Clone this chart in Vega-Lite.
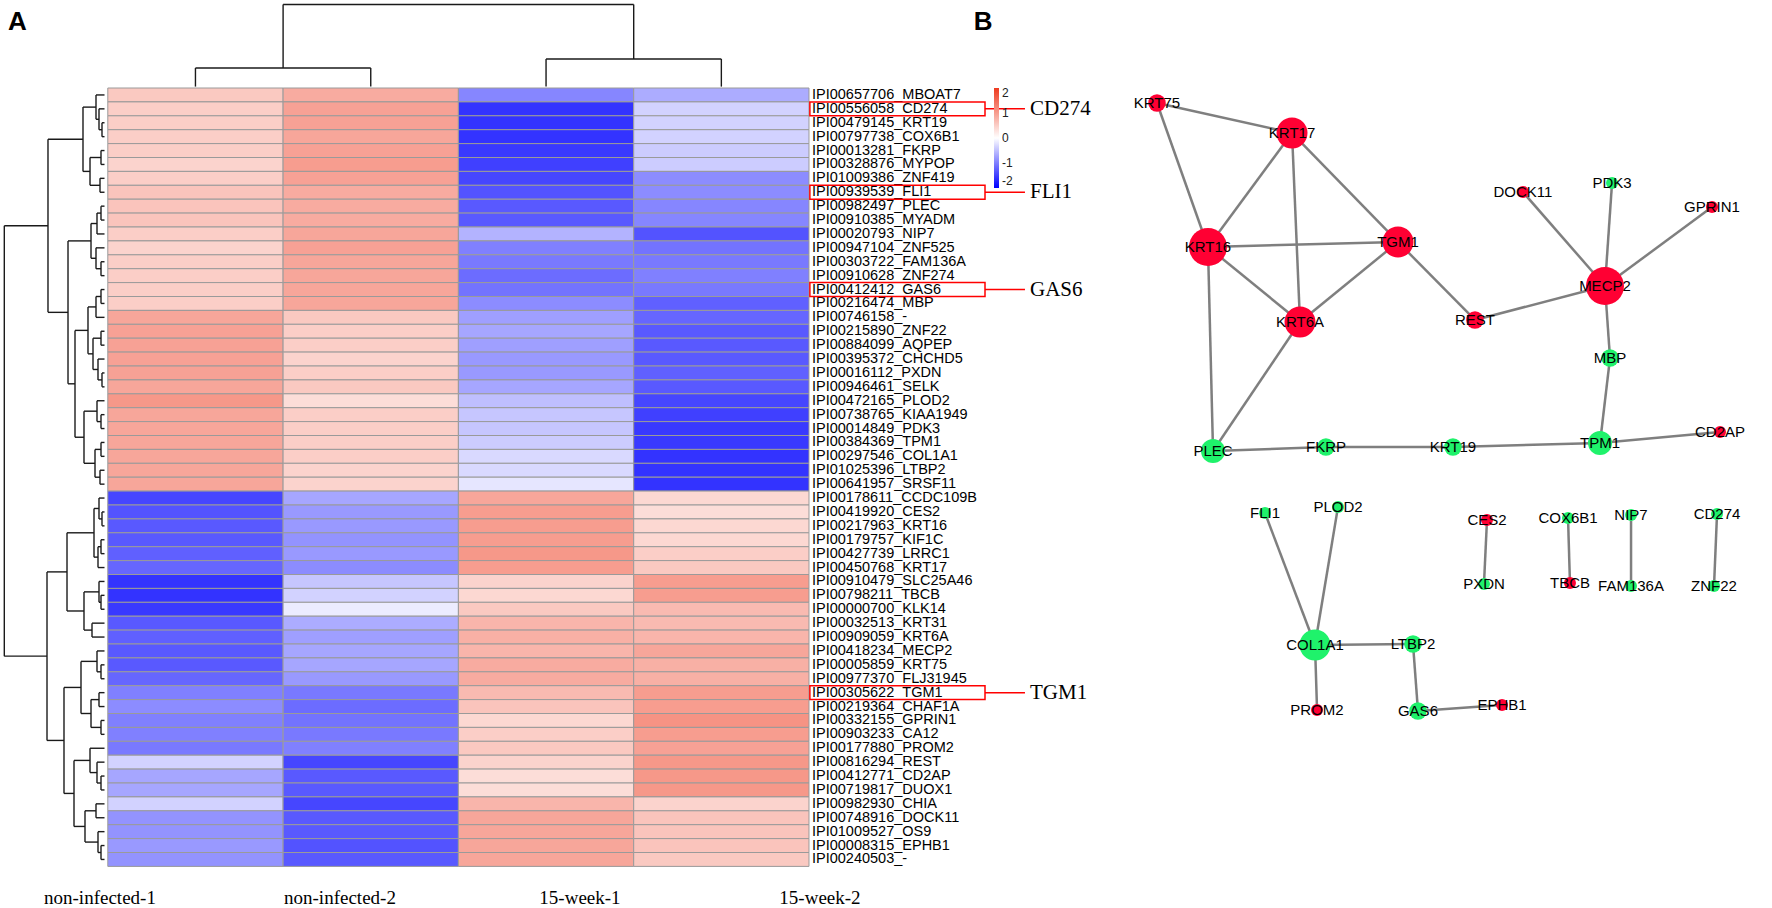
{
"$schema": "https://vega.github.io/schema/vega-lite/v6.json",
"padding": 0,
"spacing": 0,
"bounds": "flush",
"background": "white",
"config": {"view": {"stroke": null}, "font": "Liberation Sans"},
"datasets": {
"hm": [
{"id":"IPI00657706_MBOAT7","n1":0.55,"n2":0.85,"w1":-0.95,"w2":-0.65},
{"id":"IPI00556058_CD274","n1":0.5,"n2":0.95,"w1":-1.6,"w2":-0.35,"tag":"CD274"},
{"id":"IPI00479145_KRT19","n1":0.5,"n2":0.95,"w1":-1.6,"w2":-0.35},
{"id":"IPI00797738_COX6B1","n1":0.5,"n2":0.9,"w1":-1.6,"w2":-0.35},
{"id":"IPI00013281_FKRP","n1":0.5,"n2":0.95,"w1":-1.55,"w2":-0.4},
{"id":"IPI00328876_MYPOP","n1":0.45,"n2":1.0,"w1":-1.5,"w2":-0.4},
{"id":"IPI01009386_ZNF419","n1":0.5,"n2":0.95,"w1":-1.45,"w2":-0.9},
{"id":"IPI00939539_FLI1","n1":0.6,"n2":0.85,"w1":-1.35,"w2":-0.9,"tag":"FLI1"},
{"id":"IPI00982497_PLEC","n1":0.6,"n2":0.85,"w1":-1.3,"w2":-0.95},
{"id":"IPI00910385_MYADM","n1":0.6,"n2":0.85,"w1":-1.3,"w2":-0.95},
{"id":"IPI00020793_NIP7","n1":0.5,"n2":0.9,"w1":-0.6,"w2":-1.35},
{"id":"IPI00947104_ZNF525","n1":0.45,"n2":0.95,"w1":-1.0,"w2":-1.1},
{"id":"IPI00303722_FAM136A","n1":0.5,"n2":0.9,"w1":-1.05,"w2":-1.05},
{"id":"IPI00910628_ZNF274","n1":0.5,"n2":0.9,"w1":-1.15,"w2":-1.0},
{"id":"IPI00412412_GAS6","n1":0.5,"n2":0.9,"w1":-1.1,"w2":-1.05,"tag":"GAS6"},
{"id":"IPI00216474_MBP","n1":0.5,"n2":0.9,"w1":-0.9,"w2":-1.25},
{"id":"IPI00746158_-","n1":0.9,"n2":0.55,"w1":-0.75,"w2":-1.2},
{"id":"IPI00215890_ZNF22","n1":0.95,"n2":0.5,"w1":-0.7,"w2":-1.3},
{"id":"IPI00884099_AQPEP","n1":0.95,"n2":0.5,"w1":-0.75,"w2":-1.3},
{"id":"IPI00395372_CHCHD5","n1":0.95,"n2":0.45,"w1":-0.8,"w2":-1.3},
{"id":"IPI00016112_PXDN","n1":0.95,"n2":0.5,"w1":-0.8,"w2":-1.25},
{"id":"IPI00946461_SELK","n1":0.9,"n2":0.55,"w1":-0.7,"w2":-1.3},
{"id":"IPI00472165_PLOD2","n1":1.05,"n2":0.35,"w1":-0.5,"w2":-1.45},
{"id":"IPI00738765_KIAA1949","n1":0.9,"n2":0.5,"w1":-0.45,"w2":-1.5},
{"id":"IPI00014849_PDK3","n1":0.9,"n2":0.5,"w1":-0.45,"w2":-1.55},
{"id":"IPI00384369_TPM1","n1":0.9,"n2":0.5,"w1":-0.4,"w2":-1.55},
{"id":"IPI00297546_COL1A1","n1":0.9,"n2":0.5,"w1":-0.3,"w2":-1.6},
{"id":"IPI01025396_LTBP2","n1":0.9,"n2":0.45,"w1":-0.3,"w2":-1.6},
{"id":"IPI00641957_SRSF11","n1":0.9,"n2":0.45,"w1":-0.2,"w2":-1.6},
{"id":"IPI00178611_CCDC109B","n1":-1.45,"n2":-0.7,"w1":0.9,"w2":0.4},
{"id":"IPI00419920_CES2","n1":-1.35,"n2":-0.8,"w1":1.0,"w2":0.35},
{"id":"IPI00217963_KRT16","n1":-1.3,"n2":-0.8,"w1":1.0,"w2":0.4},
{"id":"IPI00179757_KIF1C","n1":-1.3,"n2":-0.85,"w1":1.0,"w2":0.4},
{"id":"IPI00427739_LRRC1","n1":-1.25,"n2":-0.8,"w1":1.05,"w2":0.5},
{"id":"IPI00450768_KRT17","n1":-1.2,"n2":-0.9,"w1":1.0,"w2":0.55},
{"id":"IPI00910479_SLC25A46","n1":-1.6,"n2":-0.45,"w1":0.45,"w2":1.0},
{"id":"IPI00798211_TBCB","n1":-1.6,"n2":-0.35,"w1":0.4,"w2":1.0},
{"id":"IPI00000700_KLK14","n1":-1.55,"n2":-0.15,"w1":0.55,"w2":0.7},
{"id":"IPI00032513_KRT31","n1":-1.3,"n2":-0.65,"w1":0.75,"w2":0.7},
{"id":"IPI00909059_KRT6A","n1":-1.25,"n2":-0.75,"w1":0.8,"w2":0.75},
{"id":"IPI00418234_MECP2","n1":-1.3,"n2":-0.7,"w1":0.75,"w2":0.9},
{"id":"IPI00005859_KRT75","n1":-1.3,"n2":-0.7,"w1":0.85,"w2":0.8},
{"id":"IPI00977370_FLJ31945","n1":-1.2,"n2":-0.8,"w1":0.85,"w2":0.8},
{"id":"IPI00305622_TGM1","n1":-1.0,"n2":-1.05,"w1":0.7,"w2":1.0,"tag":"TGM1"},
{"id":"IPI00219364_CHAF1A","n1":-0.9,"n2":-1.15,"w1":0.6,"w2":1.0},
{"id":"IPI00332155_GPRIN1","n1":-1.0,"n2":-1.1,"w1":0.4,"w2":1.1},
{"id":"IPI00903233_CA12","n1":-1.0,"n2":-1.05,"w1":0.5,"w2":1.0},
{"id":"IPI00177880_PROM2","n1":-1.05,"n2":-1.0,"w1":0.55,"w2":0.95},
{"id":"IPI00816294_REST","n1":-0.35,"n2":-1.45,"w1":0.45,"w2":1.05},
{"id":"IPI00412771_CD2AP","n1":-0.7,"n2":-1.3,"w1":0.35,"w2":1.05},
{"id":"IPI00719817_DUOX1","n1":-0.7,"n2":-1.3,"w1":0.35,"w2":1.05},
{"id":"IPI00982930_CHIA","n1":-0.35,"n2":-1.45,"w1":0.75,"w2":0.45},
{"id":"IPI00748916_DOCK11","n1":-0.85,"n2":-1.3,"w1":0.9,"w2":0.6},
{"id":"IPI01009527_OS9","n1":-0.85,"n2":-1.3,"w1":0.9,"w2":0.6},
{"id":"IPI00008315_EPHB1","n1":-0.8,"n2":-1.35,"w1":0.9,"w2":0.6},
{"id":"IPI00240503_-","n1":-0.85,"n2":-1.3,"w1":0.9,"w2":0.55}
],
"rtree": [
{"h":-0.0331,"p1":2.5,"h1":-0.0188,"p2":3.5,"h2":-0.0188},
{"h":-0.0502,"p1":1.5,"h1":-0.0188,"p2":3.0,"h2":-0.0331},
{"h":-0.0673,"p1":0.5,"h1":-0.0188,"p2":2.25,"h2":-0.0502},
{"h":-0.0388,"p1":4.5,"h1":-0.0188,"p2":5.5,"h2":-0.0188},
{"h":-0.0445,"p1":6.5,"h1":-0.0188,"p2":7.5,"h2":-0.0188},
{"h":-0.1015,"p1":5.0,"h1":-0.0388,"p2":7.0,"h2":-0.0445},
{"h":-0.1415,"p1":1.375,"h1":-0.0673,"p2":6.0,"h2":-0.1015},
{"h":-0.0388,"p1":8.5,"h1":-0.0188,"p2":9.5,"h2":-0.0188},
{"h":-0.0616,"p1":9.0,"h1":-0.0388,"p2":10.5,"h2":-0.0188},
{"h":-0.0388,"p1":12.5,"h1":-0.0188,"p2":13.5,"h2":-0.0188},
{"h":-0.0673,"p1":11.5,"h1":-0.0188,"p2":13.0,"h2":-0.0388},
{"h":-0.0958,"p1":9.75,"h1":-0.0616,"p2":12.25,"h2":-0.0673},
{"h":-0.0388,"p1":14.5,"h1":-0.0188,"p2":15.5,"h2":-0.0188},
{"h":-0.0673,"p1":15.0,"h1":-0.0388,"p2":16.5,"h2":-0.0188},
{"h":-0.0388,"p1":17.5,"h1":-0.0188,"p2":18.5,"h2":-0.0188},
{"h":-0.0331,"p1":20.5,"h1":-0.0188,"p2":21.5,"h2":-0.0188},
{"h":-0.0559,"p1":19.5,"h1":-0.0188,"p2":21.0,"h2":-0.0331},
{"h":-0.0844,"p1":18.0,"h1":-0.0388,"p2":20.25,"h2":-0.0559},
{"h":-0.1130,"p1":15.75,"h1":-0.0673,"p2":19.125,"h2":-0.0844},
{"h":-0.0388,"p1":23.5,"h1":-0.0188,"p2":24.5,"h2":-0.0188},
{"h":-0.0616,"p1":22.5,"h1":-0.0188,"p2":24.0,"h2":-0.0388},
{"h":-0.0388,"p1":25.5,"h1":-0.0188,"p2":26.5,"h2":-0.0188},
{"h":-0.0445,"p1":27.5,"h1":-0.0188,"p2":28.5,"h2":-0.0188},
{"h":-0.0730,"p1":26.0,"h1":-0.0388,"p2":28.0,"h2":-0.0445},
{"h":-0.1358,"p1":23.25,"h1":-0.0616,"p2":27.0,"h2":-0.0730},
{"h":-0.1871,"p1":17.4375,"h1":-0.1130,"p2":25.125,"h2":-0.1358},
{"h":-0.2270,"p1":11.0,"h1":-0.0958,"p2":21.28125,"h2":-0.1871},
{"h":-0.3412,"p1":3.6875,"h1":-0.1415,"p2":16.140625,"h2":-0.2270},
{"h":-0.0331,"p1":30.5,"h1":-0.0188,"p2":31.5,"h2":-0.0188},
{"h":-0.0502,"p1":29.5,"h1":-0.0188,"p2":31.0,"h2":-0.0331},
{"h":-0.0388,"p1":32.5,"h1":-0.0188,"p2":33.5,"h2":-0.0188},
{"h":-0.0559,"p1":33.0,"h1":-0.0388,"p2":34.5,"h2":-0.0188},
{"h":-0.0787,"p1":30.25,"h1":-0.0502,"p2":33.75,"h2":-0.0559},
{"h":-0.0388,"p1":36.5,"h1":-0.0188,"p2":37.5,"h2":-0.0188},
{"h":-0.0502,"p1":35.5,"h1":-0.0188,"p2":37.0,"h2":-0.0388},
{"h":-0.0901,"p1":38.5,"h1":-0.0188,"p2":39.5,"h2":-0.0188},
{"h":-0.1358,"p1":36.25,"h1":-0.0502,"p2":39.0,"h2":-0.0901},
{"h":-0.2327,"p1":32.0,"h1":-0.0787,"p2":37.625,"h2":-0.1358},
{"h":-0.0388,"p1":41.5,"h1":-0.0188,"p2":42.5,"h2":-0.0188},
{"h":-0.0616,"p1":40.5,"h1":-0.0188,"p2":42.0,"h2":-0.0388},
{"h":-0.0502,"p1":43.5,"h1":-0.0188,"p2":44.5,"h2":-0.0188},
{"h":-0.0388,"p1":45.5,"h1":-0.0188,"p2":46.5,"h2":-0.0188},
{"h":-0.0958,"p1":44.0,"h1":-0.0502,"p2":46.0,"h2":-0.0388},
{"h":-0.1529,"p1":41.25,"h1":-0.0616,"p2":45.0,"h2":-0.0958},
{"h":-0.0388,"p1":49.5,"h1":-0.0188,"p2":50.5,"h2":-0.0188},
{"h":-0.0616,"p1":48.5,"h1":-0.0188,"p2":50.0,"h2":-0.0388},
{"h":-0.1015,"p1":47.5,"h1":-0.0188,"p2":49.25,"h2":-0.0616},
{"h":-0.0673,"p1":51.5,"h1":-0.0188,"p2":52.5,"h2":-0.0188},
{"h":-0.0388,"p1":54.5,"h1":-0.0188,"p2":55.5,"h2":-0.0188},
{"h":-0.0559,"p1":53.5,"h1":-0.0188,"p2":55.0,"h2":-0.0388},
{"h":-0.1301,"p1":52.0,"h1":-0.0673,"p2":54.25,"h2":-0.0559},
{"h":-0.1928,"p1":48.375,"h1":-0.1015,"p2":53.125,"h2":-0.1301},
{"h":-0.2499,"p1":43.125,"h1":-0.1529,"p2":50.75,"h2":-0.1928},
{"h":-0.3468,"p1":34.8125,"h1":-0.2327,"p2":46.9375,"h2":-0.2499},
{"h":-0.5904,"p1":9.9140625,"h1":-0.3412,"p2":40.875,"h2":-0.3468}
],
"ctree": [
{"h":-1.439,"p1":0.5,"h1":-0.1,"p2":1.5,"h2":-0.1},
{"h":-2.086,"p1":2.5,"h1":-0.1,"p2":3.5,"h2":-0.1},
{"h":-6.007,"p1":1.0,"h1":-1.439,"p2":3.0,"h2":-2.086}
],
"nodes": [
{"id":"KRT75","x":24.26,"y":11.34,"deg":2,"reg":"up"},
{"id":"KRT17","x":40.89,"y":14.65,"deg":4,"reg":"up"},
{"id":"KRT16","x":30.54,"y":27.2,"deg":5,"reg":"up"},
{"id":"TGM1","x":53.94,"y":26.65,"deg":4,"reg":"up"},
{"id":"KRT6A","x":41.87,"y":35.46,"deg":4,"reg":"up"},
{"id":"DOCK11","x":69.33,"y":21.15,"deg":1,"reg":"up"},
{"id":"PDK3","x":80.3,"y":20.15,"deg":1,"reg":"down"},
{"id":"GPRIN1","x":92.61,"y":22.8,"deg":1,"reg":"up"},
{"id":"MECP2","x":79.43,"y":31.5,"deg":5,"reg":"up"},
{"id":"REST","x":63.42,"y":35.24,"deg":2,"reg":"up"},
{"id":"MBP","x":80.05,"y":39.43,"deg":2,"reg":"down"},
{"id":"TPM1","x":78.82,"y":48.79,"deg":3,"reg":"down"},
{"id":"CD2AP","x":93.6,"y":47.58,"deg":1,"reg":"up"},
{"id":"PLEC","x":31.16,"y":49.67,"deg":3,"reg":"down"},
{"id":"FKRP","x":45.07,"y":49.23,"deg":2,"reg":"down"},
{"id":"KRT19","x":60.71,"y":49.23,"deg":2,"reg":"down"},
{"id":"FLI1","x":37.56,"y":56.5,"deg":1,"reg":"down"},
{"id":"PLOD2","x":46.55,"y":55.84,"deg":1,"reg":"down"},
{"id":"CES2","x":64.9,"y":57.27,"deg":1,"reg":"up"},
{"id":"COX6B1","x":74.88,"y":57.05,"deg":1,"reg":"down"},
{"id":"PXDN","x":64.53,"y":64.32,"deg":1,"reg":"down"},
{"id":"TBCB","x":75.12,"y":64.21,"deg":1,"reg":"up"},
{"id":"NIP7","x":82.64,"y":56.72,"deg":1,"reg":"down"},
{"id":"FAM136A","x":82.64,"y":64.54,"deg":1,"reg":"down"},
{"id":"CD274","x":93.23,"y":56.61,"deg":1,"reg":"down"},
{"id":"ZNF22","x":92.86,"y":64.54,"deg":1,"reg":"down"},
{"id":"COL1A1","x":43.72,"y":71.04,"deg":4,"reg":"down"},
{"id":"LTBP2","x":55.79,"y":70.93,"deg":2,"reg":"down"},
{"id":"PROM2","x":43.97,"y":78.19,"deg":1,"reg":"up"},
{"id":"GAS6","x":56.4,"y":78.3,"deg":2,"reg":"down"},
{"id":"EPHB1","x":66.75,"y":77.64,"deg":1,"reg":"up"}
],
"edges": [
{"source":"KRT75","target":"KRT17"},
{"source":"KRT75","target":"KRT16"},
{"source":"KRT17","target":"KRT16"},
{"source":"KRT17","target":"TGM1"},
{"source":"KRT17","target":"KRT6A"},
{"source":"KRT16","target":"TGM1"},
{"source":"KRT16","target":"KRT6A"},
{"source":"TGM1","target":"KRT6A"},
{"source":"KRT16","target":"PLEC"},
{"source":"KRT6A","target":"PLEC"},
{"source":"TGM1","target":"REST"},
{"source":"REST","target":"MECP2"},
{"source":"MECP2","target":"DOCK11"},
{"source":"MECP2","target":"PDK3"},
{"source":"MECP2","target":"GPRIN1"},
{"source":"MECP2","target":"MBP"},
{"source":"MBP","target":"TPM1"},
{"source":"PLEC","target":"FKRP"},
{"source":"FKRP","target":"KRT19"},
{"source":"KRT19","target":"TPM1"},
{"source":"TPM1","target":"CD2AP"},
{"source":"FLI1","target":"COL1A1"},
{"source":"PLOD2","target":"COL1A1"},
{"source":"COL1A1","target":"LTBP2"},
{"source":"COL1A1","target":"PROM2"},
{"source":"LTBP2","target":"GAS6"},
{"source":"GAS6","target":"EPHB1"},
{"source":"CES2","target":"PXDN"},
{"source":"COX6B1","target":"TBCB"},
{"source":"NIP7","target":"FAM136A"},
{"source":"CD274","target":"ZNF22"}
]
},
"hconcat": [
{
"width": 960,
"height": 908,
"resolve": {"scale": {"x": "independent", "y": "independent"}},
"layer": [
{
"data": {"name": "hm"},
"transform": [{"fold": ["n1","n2","w1","w2"], "as": ["sample","z"]}],
"mark": {"type": "rect", "stroke": "#9a9a9a", "strokeWidth": 1},
"encoding": {
"x": {"field": "sample", "type": "nominal", "sort": null, "axis": null, "scale": {"paddingInner": 0, "paddingOuter": 0.738164, "align": 0.416538}},
"y": {"field": "id", "type": "nominal", "sort": null, "axis": null, "scale": {"range": [88, 866.4], "paddingInner": 0, "paddingOuter": 0}},
"color": {"field": "z", "type": "quantitative", "scale": {"domain": [-2,0,2], "range": ["#0000ff","#ffffff","#ee3a1f"], "interpolate": "rgb"},
"legend": {"orient": "none", "legendX": 994, "legendY": 88, "direction": "vertical", "gradientLength": 100, "gradientThickness": 5, "title": null, "values": [-2,-1,0,1,2], "labelExpr": "'' + datum.value", "labelFontSize": 12, "labelFont": "Liberation Sans", "labelOffset": 3, "gradientStrokeWidth": 0, "labelColor": "#222222"}}
}
},
{
"data": {"name": "hm"},
"mark": {"type": "text", "align": "left", "baseline": "middle", "dx": 3, "fontSize": 14.5, "font": "Liberation Sans", "color": "#000000"},
"encoding": {
"y": {"field": "id", "type": "nominal", "sort": null, "axis": null, "scale": {"range": [88, 866.4], "paddingInner": 0, "paddingOuter": 0}},
"x": {"datum": 4, "type": "quantitative", "axis": null, "scale": {"domain": [-0.61495, 4.86138], "nice": false, "zero": false}},
"text": {"field": "id"}
}
},
{
"data": {"name": "hm"},
"mark": {"type": "rect", "filled": false, "stroke": "#ff0000", "strokeWidth": 1.5},
"encoding": {
"y": {"field": "id", "type": "nominal", "sort": null, "axis": null, "scale": {"range": [88, 866.4], "paddingInner": 0, "paddingOuter": 0}},
"x": {"datum": 4.005, "type": "quantitative", "axis": null, "scale": {"domain": [-0.61495, 4.86138], "nice": false, "zero": false}},
"x2": {"datum": 5.004},
"strokeOpacity": {"condition": {"test": "isValid(datum.tag)", "value": 1}, "value": 0}
}
},
{
"data": {"name": "hm"},
"mark": {"type": "rule", "stroke": "#ff0000", "strokeWidth": 1.5},
"encoding": {
"y": {"field": "id", "type": "nominal", "sort": null, "axis": null, "scale": {"range": [88, 866.4], "paddingInner": 0, "paddingOuter": 0}},
"x": {"datum": 5.004, "type": "quantitative", "axis": null, "scale": {"domain": [-0.61495, 4.86138], "nice": false, "zero": false}},
"x2": {"datum": 5.232},
"strokeOpacity": {"condition": {"test": "isValid(datum.tag)", "value": 1}, "value": 0}
}
},
{
"data": {"name": "hm"},
"mark": {"type": "text", "align": "left", "baseline": "middle", "dx": 5, "fontSize": 21, "font": "Liberation Serif", "color": "#000000"},
"encoding": {
"y": {"field": "id", "type": "nominal", "sort": null, "axis": null, "scale": {"range": [88, 866.4], "paddingInner": 0, "paddingOuter": 0}},
"x": {"datum": 5.232, "type": "quantitative", "axis": null, "scale": {"domain": [-0.61495, 4.86138], "nice": false, "zero": false}},
"text": {"field": "tag"},
"opacity": {"condition": {"test": "isValid(datum.tag)", "value": 1}, "value": 0}
}
},
{
"data": {"name": "rtree"},
"mark": {"type": "rule", "stroke": "#1a1a1a", "strokeWidth": 1.4},
"encoding": {
"x": {"field": "h", "type": "quantitative", "axis": null, "scale": {"domain": [-0.61495, 4.86138], "nice": false, "zero": false}},
"y": {"field": "p1", "type": "quantitative", "axis": null, "scale": {"domain": [-6.33094, 58.99281], "nice": false, "zero": false, "reverse": true}},
"y2": {"field": "p2"}
}
},
{
"data": {"name": "rtree"},
"mark": {"type": "rule", "stroke": "#1a1a1a", "strokeWidth": 1.4},
"encoding": {
"x": {"field": "h1", "type": "quantitative", "axis": null, "scale": {"domain": [-0.61495, 4.86138], "nice": false, "zero": false}},
"x2": {"field": "h"},
"y": {"field": "p1", "type": "quantitative", "axis": null, "scale": {"domain": [-6.33094, 58.99281], "nice": false, "zero": false, "reverse": true}}
}
},
{
"data": {"name": "rtree"},
"mark": {"type": "rule", "stroke": "#1a1a1a", "strokeWidth": 1.4},
"encoding": {
"x": {"field": "h2", "type": "quantitative", "axis": null, "scale": {"domain": [-0.61495, 4.86138], "nice": false, "zero": false}},
"x2": {"field": "h"},
"y": {"field": "p2", "type": "quantitative", "axis": null, "scale": {"domain": [-6.33094, 58.99281], "nice": false, "zero": false, "reverse": true}}
}
},
{
"data": {"name": "ctree"},
"mark": {"type": "rule", "stroke": "#1a1a1a", "strokeWidth": 1.4},
"encoding": {
"y": {"field": "h", "type": "quantitative", "axis": null, "scale": {"domain": [-6.33094, 58.99281], "nice": false, "zero": false, "reverse": true}},
"x": {"field": "p1", "type": "quantitative", "axis": null, "scale": {"domain": [-0.61495, 4.86138], "nice": false, "zero": false}},
"x2": {"field": "p2"}
}
},
{
"data": {"name": "ctree"},
"mark": {"type": "rule", "stroke": "#1a1a1a", "strokeWidth": 1.4},
"encoding": {
"x": {"field": "p1", "type": "quantitative", "axis": null, "scale": {"domain": [-0.61495, 4.86138], "nice": false, "zero": false}},
"y": {"field": "h1", "type": "quantitative", "axis": null, "scale": {"domain": [-6.33094, 58.99281], "nice": false, "zero": false, "reverse": true}},
"y2": {"field": "h"}
}
},
{
"data": {"name": "ctree"},
"mark": {"type": "rule", "stroke": "#1a1a1a", "strokeWidth": 1.4},
"encoding": {
"x": {"field": "p2", "type": "quantitative", "axis": null, "scale": {"domain": [-0.61495, 4.86138], "nice": false, "zero": false}},
"y": {"field": "h2", "type": "quantitative", "axis": null, "scale": {"domain": [-6.33094, 58.99281], "nice": false, "zero": false, "reverse": true}},
"y2": {"field": "h"}
}
},
{
"data": {"values": [{"s": "non-infected-1"}, {"s": "non-infected-2"}, {"s": "15-week-1"}, {"s": "15-week-2"}]},
"mark": {"type": "text", "align": "center", "baseline": "middle", "fontSize": 19, "font": "Liberation Serif", "color": "#000000"},
"encoding": {
"x": {"field": "s", "type": "nominal", "sort": null, "axis": null, "scale": {"paddingInner": 0, "paddingOuter": 0.738164, "align": 0.416538}},
"y": {"datum": 58.27, "type": "quantitative", "axis": null, "scale": {"domain": [-6.33094, 58.99281], "nice": false, "zero": false, "reverse": true}},
"text": {"field": "s"}
}
},
{
"data": {"values": [{"t": "A"}]},
"mark": {"type": "text", "align": "left", "baseline": "middle", "fontSize": 26, "fontWeight": "bold", "font": "Liberation Sans", "color": "#000000"},
"encoding": {
"x": {"datum": -0.5693, "type": "quantitative", "axis": null, "scale": {"domain": [-0.61495, 4.86138], "nice": false, "zero": false}},
"y": {"datum": -4.748, "type": "quantitative", "axis": null, "scale": {"domain": [-6.33094, 58.99281], "nice": false, "zero": false, "reverse": true}},
"text": {"field": "t"}
}
}
]
},
{
"width": 812,
"height": 908,
"layer": [
{
"data": {"name": "edges"},
"transform": [
{"lookup": "source", "from": {"data": {"name": "nodes"}, "key": "id", "fields": ["x","y"]}, "as": ["sx","sy"]},
{"lookup": "target", "from": {"data": {"name": "nodes"}, "key": "id", "fields": ["x","y"]}, "as": ["tx","ty"]}
],
"mark": {"type": "rule", "stroke": "#7f7f7f", "strokeWidth": 2.5},
"encoding": {
"x": {"field": "sx", "type": "quantitative", "axis": null, "scale": {"domain": [0,100], "nice": false, "zero": false}},
"y": {"field": "sy", "type": "quantitative", "axis": null, "scale": {"domain": [0,100], "nice": false, "zero": false, "reverse": true}},
"x2": {"field": "tx"},
"y2": {"field": "ty"}
}
},
{
"data": {"name": "nodes"},
"mark": {"type": "point", "shape": "circle", "filled": true, "opacity": 1, "strokeWidth": 0},
"encoding": {
"x": {"field": "x", "type": "quantitative", "axis": null},
"y": {"field": "y", "type": "quantitative", "axis": null},
"size": {"field": "deg", "type": "quantitative", "legend": null, "scale": {"type": "pow", "exponent": 2, "domain": [1,5], "range": [144,1444]}},
"color": {"field": "reg", "type": "nominal", "legend": null, "scale": {"domain": ["up","down"], "range": ["#ff0033","#1ff26b"]}}
}
},
{
"data": {"name": "nodes"},
"mark": {"type": "text", "align": "center", "baseline": "middle", "fontSize": 15, "font": "Liberation Sans", "color": "#000000"},
"encoding": {
"x": {"field": "x", "type": "quantitative", "axis": null},
"y": {"field": "y", "type": "quantitative", "axis": null},
"text": {"field": "id"}
}
},
{
"data": {"values": [{"t": "B"}]},
"mark": {"type": "text", "align": "left", "baseline": "middle", "fontSize": 26, "fontWeight": "bold", "font": "Liberation Sans", "color": "#000000"},
"encoding": {
"x": {"datum": 1.7, "type": "quantitative", "axis": null},
"y": {"datum": 2.42, "type": "quantitative", "axis": null},
"text": {"field": "t"}
}
}
]
}
]
}
